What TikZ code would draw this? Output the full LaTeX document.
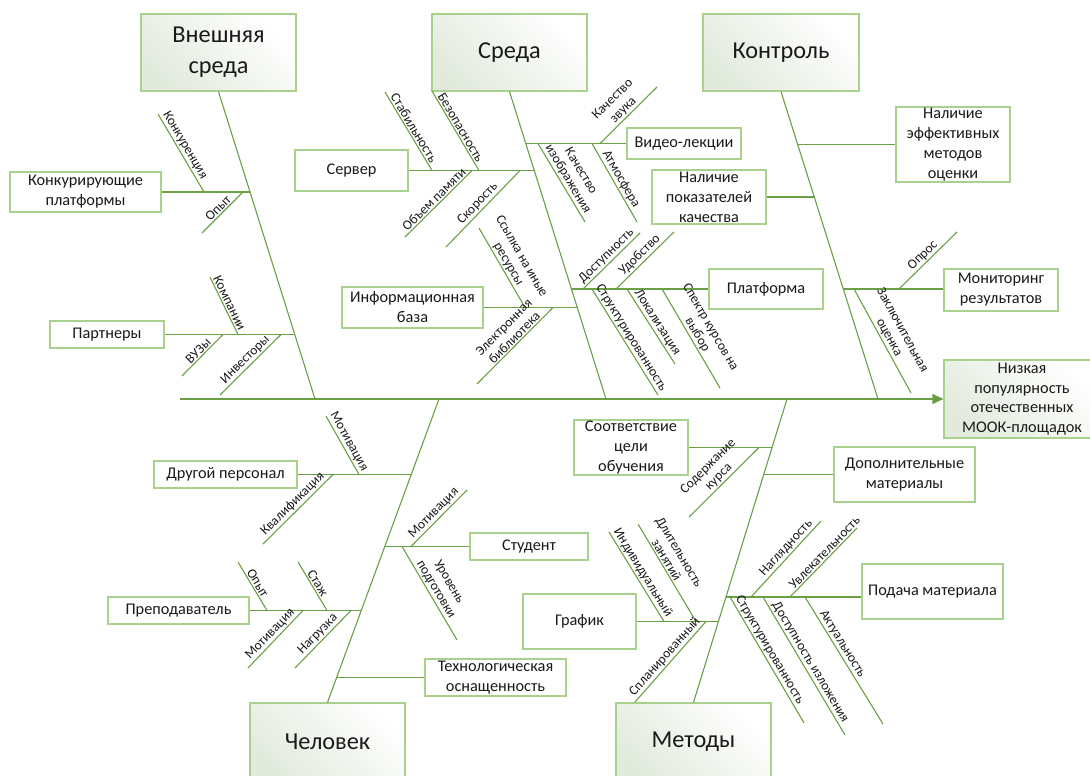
\documentclass[tikz,border=0pt]{standalone}
\usepackage{fontspec}
\setmainfont{Carlito}
\usetikzlibrary{arrows.meta,calc}
\definecolor{ln}{HTML}{6A9F45}
\definecolor{bd}{HTML}{A9D18E}
\definecolor{gA}{HTML}{E2EADD}
\definecolor{gB}{HTML}{F8FAF7}
\definecolor{tx}{HTML}{1A1A1A}
\tikzset{
  bone/.style={draw=ln, line width=1.1pt},
  box/.style={draw=bd, line width=1.2pt, fill=white, align=center, text=tx,
    font=\fontsize{16.3}{20}\selectfont, inner sep=0pt},
  gbox/.style={box, shading=axis, top color=gA, middle color=gB, bottom color=white, shading angle=135,
    font=\fontsize{24.3}{31}\selectfont},
  lbl/.style={sloped, above, font=\fontsize{13.5}{15}\selectfont, inner sep=1.3pt,
    align=center, text=tx}
}
\newcommand\fbtick[5][0.5]{%
  \coordinate (#2a) at (#3); \coordinate (#2b) at (#4);
  \draw[bone] (#2a) -- (#2b) node[lbl,pos=#1]{#5};}
\begin{document}
\begin{tikzpicture}[x=1pt,y=-1pt]
\clip (0,0) rectangle (1090,776);
\useasboundingbox (0,0) rectangle (1090,776);
% category boxes
\node[gbox, minimum width=155, minimum height=77] (vs) at (218.5,52.5) {Внешняя\\среда};
\node[gbox, minimum width=155, minimum height=77] (sr) at (509.5,52.5) {Среда};
\node[gbox, minimum width=156, minimum height=77] (kt) at (781,52.5) {Контроль};
\node[gbox, minimum width=155, minimum height=77] (ch) at (327.5,741.5) {Человек};
\node[gbox, minimum width=155, minimum height=77] (mt) at (693.5,741.5) {Методы};
\node[gbox, minimum width=156, minimum height=78, font=\fontsize{16.3}{19.7}\selectfont] (eff) at (1022,399) {Низкая\\популярность\\отечественных\\МООК-площадок};
% sub boxes
\node[box, minimum width=151, minimum height=40] (kp) at (85.5,192) {Конкурирующие\\платформы};
\node[box, minimum width=114, minimum height=27] (pr) at (107,334.5) {Партнеры};
\node[box, minimum width=113, minimum height=41] (sv) at (351.5,170.5) {Сервер};
\node[box, minimum width=141, minimum height=41] (ib) at (412.5,307.5) {Информационная\\база};
\node[box, minimum width=114, minimum height=31] (vl) at (684,143.5) {Видео-лекции};
\node[box, minimum width=114, minimum height=54] (np) at (709,197) {Наличие\\показателей\\качества};
\node[box, minimum width=114, minimum height=40] (pf) at (766,289) {Платформа};
\node[box, minimum width=114, minimum height=75] (ne) at (953,144.5) {Наличие\\эффективных\\методов\\оценки};
\node[box, minimum width=114, minimum height=42] (mr) at (1001,290) {Мониторинг\\результатов};
\node[box, minimum width=143, minimum height=27] (dp) at (225.5,474.5) {Другой персонал};
\node[box, minimum width=118, minimum height=27] (st) at (529,546.5) {Студент};
\node[box, minimum width=141, minimum height=27] (pp) at (178.5,610.5) {Преподаватель};
\node[box, minimum width=141, minimum height=37] (to) at (495.5,677.5) {Технологическая\\оснащенность};
\node[box, minimum width=114, minimum height=55] (sc) at (631,447.5) {Соответствие\\цели\\обучения};
\node[box, minimum width=141, minimum height=55] (dm) at (904.5,474.5) {Дополнительные\\материалы};
\node[box, minimum width=141, minimum height=55] (pm) at (932.5,591.5) {Подача материала};
\node[box, minimum width=113, minimum height=55] (gr) at (579.5,621.5) {График};
% spine
\coordinate (sp0) at (180,399);
\draw[bone, -{Triangle[length=11pt,width=10pt]}] (sp0) -- (eff.west);
\coordinate (jvs) at (315,399);
\coordinate (jsr) at (606,399);
\coordinate (jkt) at (878,399);
\coordinate (jch) at (439,399);
\coordinate (jmt) at (787,399);
\draw[bone] (vs.south) -- (jvs);
\draw[bone] (sr.south) -- (jsr);
\draw[bone] (kt.south) -- (jkt);
\draw[bone] (ch.north) -- (jch);
\draw[bone] (mt.north) -- (jmt);
% branch points on bones
\coordinate (bkp) at (250.1,192);
\coordinate (bpr) at (294.8,334.5);
\coordinate (bsv) at (534.4,170.5);
\coordinate (bvl) at (526.0,143.5);
\coordinate (bpf) at (571.5,289);
\coordinate (bib) at (577.3,307.5);
\coordinate (bne) at (797.8,144.5);
\coordinate (bnp) at (814.4,197);
\coordinate (bmr) at (843.4,289);
\coordinate (bdp) at (411.3,474.5);
\coordinate (bst) at (384.9,546.5);
\coordinate (bpp) at (361.4,610.5);
\coordinate (bto) at (336.9,677.5);
\coordinate (bsc) at (772.1,447.5);
\coordinate (bdm) at (763.8,474.5);
\coordinate (bpm) at (726.1,597);
\coordinate (bgr) at (718.6,621.5);
\foreach \b/\n/\s in {bkp/kp/east, bpr/pr/east, bsv/sv/east, bvl/vl/west, bpf/pf/west, bib/ib/east,
  bne/ne/west, bnp/np/east, bmr/mr/west, bdp/dp/east, bst/st/west, bpp/pp/east, bto/to/west,
  bsc/sc/east, bdm/dm/west, bpm/pm/west, bgr/gr/east}
  \draw[bone] (\b) -- (\b -| \n.\s);
% ticks: Внешняя среда
\fbtick[0.55]{t1}{204,192}{158,114}{Конкуренция}
\fbtick{t2}{243,192}{202,233}{Опыт}
\fbtick{t3}{238,334.5}{210,277}{Компании}
\fbtick{t4}{223,334.5}{182,376}{ВУЗы}
\fbtick{t5}{281,334.5}{220,395}{Инвесторы}
% Среда
\fbtick{t6}{432,170.5}{385,92}{Стабильность}
\fbtick{t7}{479,170.5}{432,91}{Безопасность}
\fbtick{t8}{472,170.5}{405,237}{Объем памяти}
\fbtick{t9}{520,170.5}{446,247}{Скорость}
\fbtick{t10}{525,307.5}{479,228}{Ссылка на иные\\ресурсы}
\fbtick[0.45]{t11}{553,307.5}{477,384}{Электронная\\библиотека}
\fbtick{t12}{600,143.5}{657,87}{Качество\\звука}
\fbtick{t13}{538,143.5}{585,222}{Качество\\изображения}
\fbtick{t14}{592,143.5}{637,222}{Атмосфера}
\fbtick{t15}{583,289}{640,233}{Доступность}
\fbtick{t16}{616,289}{674,232}{Удобство}
\fbtick{t17}{592,289}{658,395}{Структурированность}
\fbtick{t18}{627,289}{675,364}{Локализация}
\fbtick{t19}{662,289}{720,388}{Спектр курсов на\\выбор}
% Контроль
\fbtick{t20}{899,289}{957,232}{Опрос}
\fbtick{t21}{854,289}{911,393}{Заключительная\\оценка}
% Человек
\fbtick{t22}{359,474.5}{326,416}{Мотивация}
\fbtick{t23}{333,474.5}{263,544}{Квалификация}
\fbtick{t24}{411,546.5}{467,490}{Мотивация}
\fbtick{t25}{402,546.5}{457,640}{Уровень\\подготовки}
\fbtick{t26}{267,610.5}{238,562}{Опыт}
\fbtick{t27}{327,610.5}{298,562}{Стаж}
\fbtick{t28}{303,610.5}{248,668}{Мотивация}
\fbtick{t29}{351,610.5}{295,668}{Нагрузка}
% Методы
\fbtick{t30}{759,447.5}{689,517}{Содержание\\курса}
\fbtick[0.58]{t31}{751,597}{821,521}{Наглядность}
\fbtick[0.58]{t32}{790,597}{857,528}{Увлекательность}
\fbtick[0.45]{t33}{730,597}{804,723}{Структурированность}
\fbtick{t34}{763,597}{845,735}{Доступность изложения}
\fbtick[0.4]{t35}{805,597}{883,724}{Актуальность}
\fbtick{t36}{664,621.5}{609,532}{Индивидуальный}
\fbtick[0.6]{t37}{696,621.5}{638,524}{Длительность\\занятий}
\fbtick{t38}{706,621.5}{635,702}{Спланированный}
\end{tikzpicture}
\end{document}
